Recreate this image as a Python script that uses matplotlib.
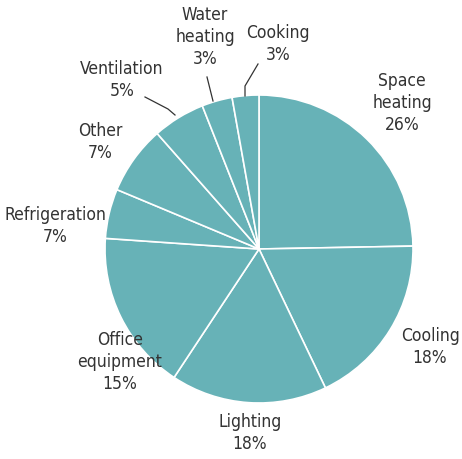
import matplotlib.pyplot as plt

labels = ['Space\nheating', 'Cooling', 'Lighting', 'Office\nequipment', 'Refrigeration',
          'Other', 'Ventilation', 'Water\nheating', 'Cooking']
pct_text = [26, 18, 18, 15, 7, 7, 5, 3, 3]
shares = [24.7, 18.2, 16.4, 16.8, 5.2, 7.2, 5.5, 3.2, 2.8]

# text block centres in pixel coords (x right, y down)
label_pos = [(402, 103), (430, 347), (250, 433), (120, 362), (55, 226),
             (100, 142), (122, 80), (205, 37), (278, 44)]

PIE_COLOR = '#67b2b7'
TEXT_COLOR = '#333333'

W, H = 462, 460
fig = plt.figure(figsize=(W / 100, H / 100), dpi=100)
ax = fig.add_axes([0, 0, 1, 1])

ax.pie(shares, colors=[PIE_COLOR] * len(shares), startangle=90, counterclock=False,
       center=(259, H - 250), radius=154,
       wedgeprops=dict(edgecolor='white', linewidth=1.2), frame=True)
ax.set_xlim(0, W)
ax.set_ylim(0, H)
ax.set_aspect('equal')
ax.axis('off')

for lab, val, (x, y) in zip(labels, pct_text, label_pos):
    ax.text(x, H - y, f'{lab}\n{val}%', ha='center', va='center', fontsize=12.5,
            color=TEXT_COLOR, family='DejaVu Sans', fontstretch='condensed',
            linespacing=1.32)

# leader lines for the small slices
leaders = [
    [(145, 98), (168, 110), (175, 116)],
    [(207, 78), (213, 102)],
    [(258, 65), (245, 87), (245, 97)],
]
for pts in leaders:
    ax.plot([p[0] for p in pts], [H - p[1] for p in pts], color=TEXT_COLOR, lw=0.9)

fig.savefig('out.png', dpi=100)
